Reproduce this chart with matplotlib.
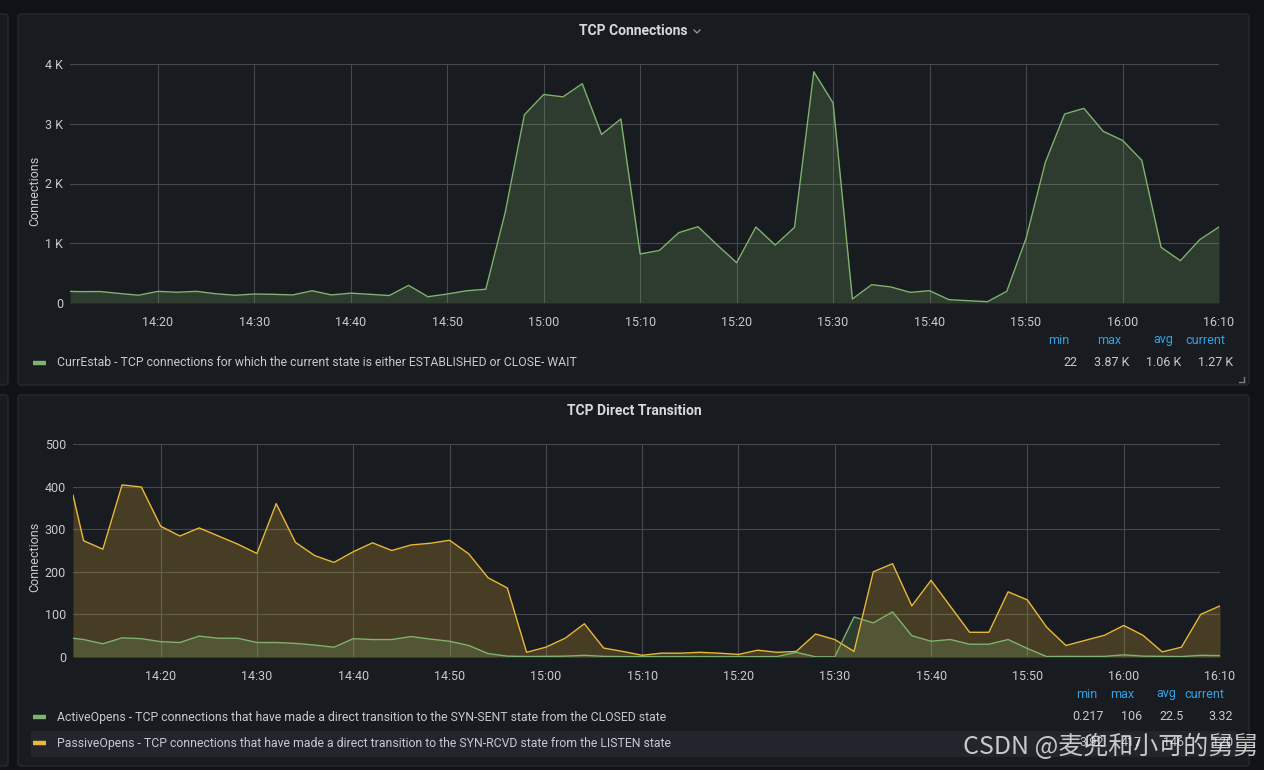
import matplotlib.pyplot as plt
from matplotlib.patches import FancyBboxPatch, Rectangle
from matplotlib.ticker import FuncFormatter

# minutes after 14:00, one sample every 2 min (first one clipped at the left edge)
minutes = [10.9] + list(range(12, 131, 2))

curr_estab = [195, 190, 192, 160, 130, 195, 180, 195, 155, 130,
              150, 145, 135, 205, 135, 165, 145, 125, 295, 105,
              150, 205, 230, 1506, 3150, 3490, 3450, 3670, 2820, 3080,
              820, 880, 1177, 1277, 970, 675, 1272, 970, 1266, 3870,
              3347, 67, 307, 268, 178, 206, 56, 39, 22, 195,
              1080, 2354, 3163, 3258, 2873, 2722, 2388, 932, 708, 1060,
              1272]

passive_opens = [380, 273, 253, 404, 399, 307, 284, 303, 284, 265,
                 243, 360, 269, 238, 222, 247, 268, 250, 263, 267,
                 274, 242, 186, 162, 11, 23, 44, 78, 21, 13,
                 4, 9, 9, 11, 9, 6, 16, 11, 13, 54,
                 41, 13, 200, 219, 120, 180, 119, 58, 58, 153,
                 134, 70, 27, 39, 51, 74, 51, 12, 23, 100,
                 120]

active_opens = [44, 41, 31, 45, 43, 36, 34, 49, 44, 44,
                34, 34, 32, 28, 23, 43, 41, 41, 48, 42,
                37, 27, 8, 2, 1.2, 1.5, 2, 4, 1.5, 1,
                0.8, 0.6, 0.7, 0.5, 0.6, 0.5, 0.8, 1, 11, 0.5,
                0.217, 94, 80, 106, 50, 37, 41, 30, 30, 41,
                20, 1, 1.5, 1.2, 1.5, 5, 2, 1.5, 1, 4,
                3.32]

tick_minutes = [20, 30, 40, 50, 60, 70, 80, 90, 100, 110, 120, 130]
tick_labels = ['14:20', '14:30', '14:40', '14:50', '15:00', '15:10',
               '15:20', '15:30', '15:40', '15:50', '16:00', '16:10']

stat_names = ['min', 'max', 'avg', 'current']
curr_stats = ['22', '3.87 K', '1.06 K', '1.27 K']
active_stats = ['0.217', '106', '22.5', '3.32']
passive_stats = ['3.92', '417', '146', '120']

curr_label = 'CurrEstab - TCP connections for which the current state is either ESTABLISHED or CLOSE- WAIT'
active_label = 'ActiveOpens - TCP connections that have made a direct transition to the SYN-SENT state from the CLOSED state'
passive_label = 'PassiveOpens - TCP connections that have made a direct transition to the SYN-RCVD state from the LISTEN state'

GREEN = '#7eb26d'
YELLOW = '#eab839'
BLUE = '#33a2e5'
TEXT = '#c7c9d1'
GRID = '#45484e'
PANEL = '#181b1f'

plt.rcParams['font.family'] = ['Roboto', 'DejaVu Sans']

W, H = 1264, 770
fig = plt.figure(figsize=(W / 100, H / 100), dpi=100)
fig.patch.set_facecolor('#111217')

# background layer in pixel coordinates
bg = fig.add_axes([0, 0, 1, 1])
bg.set_xlim(0, W)
bg.set_ylim(H, 0)
bg.axis('off')
bg.set_zorder(-1)

for (x, y, w, h) in [(18, 14, 1231, 371), (18, 395, 1231, 371),
                     (-10, 14, 18, 371), (-10, 395, 18, 371)]:
    bg.add_patch(FancyBboxPatch((x, y), w, h, boxstyle='round,pad=0,rounding_size=3',
                                fc=PANEL, ec='#26292f', lw=1))

# highlighted legend row in lower panel
bg.add_patch(Rectangle((31, 731), 1206, 26, fc='#22252b', lw=0))

# resize handle
bg.plot([1244, 1244], [377, 382], color='#7b7d82', lw=1)
bg.plot([1239, 1244], [382, 382], color='#7b7d82', lw=1)


def px_axes(l, t, r, b):
    return fig.add_axes([l / W, 1 - b / H, (r - l) / W, (b - t) / H])


def style_axes(ax, ymax, yticks, fmt):
    ax.set_facecolor('none')
    ax.set_xlim(10.9, 130)
    ax.set_ylim(0, ymax)
    ax.set_xticks(tick_minutes)
    ax.set_xticklabels(tick_labels)
    ax.set_yticks(yticks)
    ax.yaxis.set_major_formatter(FuncFormatter(fmt))
    ax.grid(True, color=GRID, lw=0.8)
    ax.set_axisbelow(True)
    for s in ax.spines.values():
        s.set_visible(False)
    ax.tick_params(length=0, colors=TEXT, labelsize=9)
    ax.tick_params(axis='x', pad=9)
    ax.tick_params(axis='y', pad=5)


# ---- top panel: TCP Connections
ax1 = px_axes(70, 64, 1219, 303)
style_axes(ax1, 4000, [0, 1000, 2000, 3000, 4000],
           lambda v, p: '0' if v == 0 else f'{int(v / 1000)} K')
ax1.fill_between(minutes, curr_estab, 0, color=GREEN, alpha=0.22, lw=0)
ax1.plot(minutes, curr_estab, color=GREEN, lw=1)

bg.text(633, 31, 'TCP Connections', ha='center', va='center', color='#d8d9da',
        fontsize=10, fontweight='bold')
bg.plot([694, 697, 700], [30, 33, 30], color='#9a9ca1', lw=0.9)
bg.text(35, 191, 'Connections', rotation=90, ha='center', va='center',
        color=TEXT, fontsize=9)

# ---- bottom panel: TCP Direct Transition
ax2 = px_axes(73, 444, 1220, 657)
style_axes(ax2, 500, [0, 100, 200, 300, 400, 500],
           lambda v, p: f'{int(v)}')
ax2.fill_between(minutes, passive_opens, 0, color=YELLOW, alpha=0.22, lw=0)
ax2.fill_between(minutes, active_opens, 0, color=GREEN, alpha=0.22, lw=0)
ax2.plot(minutes, passive_opens, color=YELLOW, lw=1)
ax2.plot(minutes, active_opens, color=GREEN, lw=1)

bg.text(634, 411, 'TCP Direct Transition', ha='center', va='center', color='#d8d9da',
        fontsize=10, fontweight='bold')
bg.text(35, 557, 'Connections', rotation=90, ha='center', va='center',
        color=TEXT, fontsize=9)

# ---- legends
def legend_row(y, color, label):
    bg.plot([33, 46], [y, y], color=color, lw=3.2, solid_capstyle='butt')
    bg.text(57, y, label, ha='left', va='center', color=TEXT, fontsize=8.8)


def stats_row(y, values, rights, color=TEXT):
    for v, r in zip(values, rights):
        bg.text(r, y, v, ha='right', va='center', color=color, fontsize=9)


legend_row(363, GREEN, curr_label)
stats_row(340, stat_names, [1069, 1121, 1173, 1225], BLUE)
stats_row(363, curr_stats, [1077, 1129, 1181, 1233])

legend_row(717, GREEN, active_label)
legend_row(743, YELLOW, passive_label)
stats_row(694, stat_names, [1097, 1134, 1176, 1224], BLUE)
stats_row(717, active_stats, [1104, 1142, 1184, 1233])
stats_row(743, passive_stats, [1104, 1142, 1184, 1233])

# watermark
bg.text(1258, 747, 'CSDN @麦兜和小可的舅舅', ha='right', va='center',
        color='#e6e6e6', alpha=0.85, fontsize=18,
        family=['Noto Sans CJK SC', 'DejaVu Sans'])

fig.savefig('out.png', dpi=100, facecolor=fig.get_facecolor())
